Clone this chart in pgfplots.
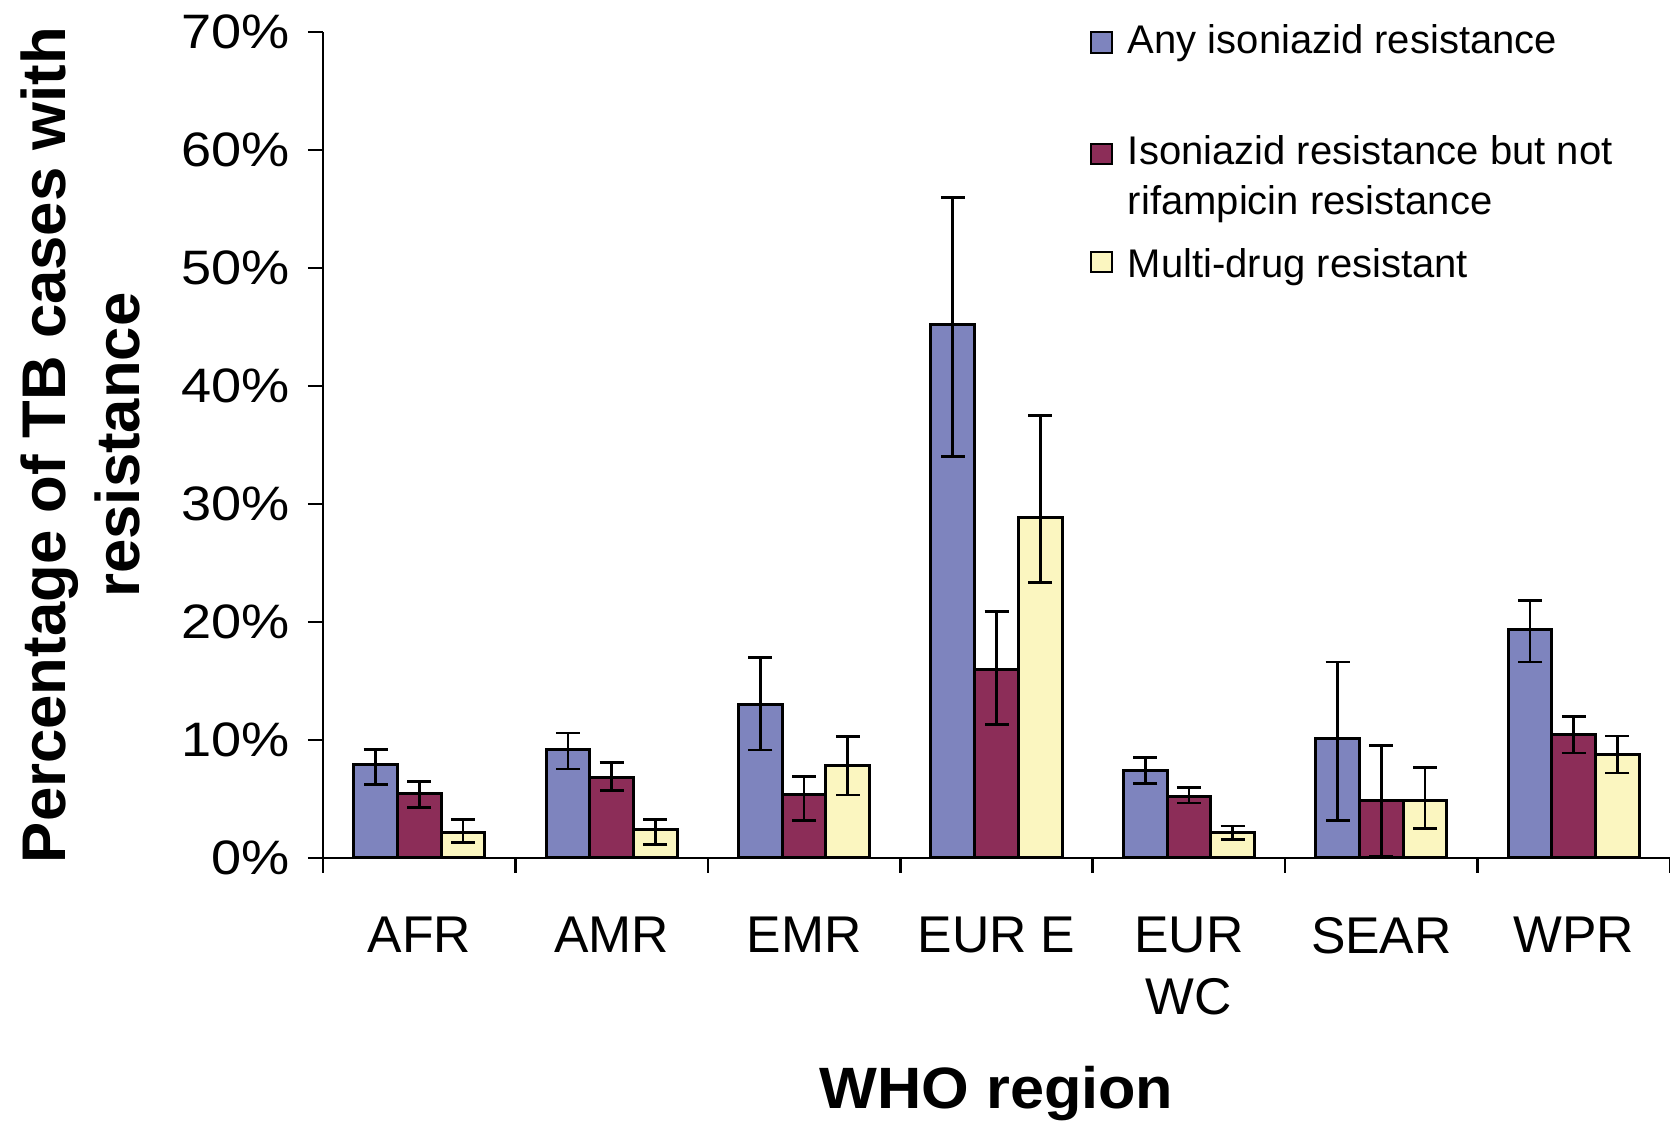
\documentclass[border=0pt]{standalone}
\usepackage{graphicx}
\usepackage{pgfplots}
\pgfplotsset{compat=1.18}
\usepackage{pgfplotstable}
\usepackage{fontspec}
\setmainfont{Liberation Sans}
\definecolor{cblue}{RGB}{126,132,190}
\definecolor{cred}{RGB}{140,45,88}
\definecolor{cyel}{RGB}{251,246,192}

% columns: x, value, error plus, error minus (percent)
\pgfplotstableread{
x y ep em
0 7.9 1.3 1.65
1 9.2 1.4 1.65
2 13.0 4.0 3.85
3 45.2 10.8 11.2
4 7.4 1.1 1.1
5 10.1 6.5 6.9
6 19.4 2.4 2.8
}\anyres
\pgfplotstableread{
x y ep em
0 5.45 1.05 1.15
1 6.8 1.3 1.1
2 5.35 1.55 2.15
3 16.0 4.9 4.7
4 5.25 0.75 0.6
5 4.9 4.65 4.8
6 10.45 1.55 1.55
}\nonrif
\pgfplotstableread{
x y ep em
0 2.2 1.05 0.9
1 2.4 0.85 1.25
2 7.85 2.45 2.5
3 28.85 8.65 5.5
4 2.15 0.55 0.6
5 4.9 2.75 2.4
6 8.75 1.6 1.55
}\mdr

\begin{document}
\begin{tikzpicture}
\useasboundingbox (0,0) rectangle (501pt,337.2pt);
\begin{axis}[
  at={(96.9pt,79.8pt)}, anchor=south west,
  scale only axis, width=404.1pt, height=247.8pt,
  xmin=-0.5, xmax=6.5, ymin=0, ymax=70,
  axis lines*=left,
  axis line style={line width=0.8pt, black},
  every tick/.style={line width=0.8pt, black},
  tick align=outside,
  major tick length=4.5pt,
  xtick={-0.5,0.5,...,6.5},
  x tick label as interval,
  xticklabels={AFR,AMR,EMR,EUR E,EUR\\WC,SEAR,WPR},
  xticklabel style={font=\fontsize{15.5}{18.5}\selectfont, align=center, yshift=-9.8pt},
  ytick={0,10,...,70},
  yticklabel={\scalebox{1.12}[1]{\pgfmathprintnumber{\tick}\%}},
  yticklabel style={font=\fontsize{14.5}{17}\selectfont, xshift=-2pt},
  /pgf/number format/assume math mode=true,
  xlabel={\scalebox{1.05}[1]{WHO region}},
  xlabel style={font=\bfseries\fontsize{17.5}{21}\selectfont, at={(axis description cs:0.5,-0.303)}, anchor=base},
  ylabel={Percentage of TB cases with\\resistance},
  ylabel style={font=\bfseries\fontsize{18.5}{22}\selectfont, align=center, at={(axis description cs:-0.180,0.5)}, anchor=center},
  ybar=0pt, bar width=0.227,
  legend style={at={(axis description cs:0.569,1.018)}, anchor=north west, draw=none, fill=none, inner sep=0pt,
    font=\fontsize{12}{15}\selectfont, cells={anchor=base west, align=left}, row sep=4.6pt},
  legend cell align=left,
]
\pgfplotsset{mybox/.style={legend image code/.code={\draw[##1, draw=black, line width=0.6pt] (0pt,#1) rectangle ++(6.2pt,6.2pt); \path (8.6pt,0pt);}}}
\addplot[fill=cblue, draw=black, line width=0.9pt, mybox=3.9pt,
  error bars/.cd, y dir=both, y explicit,
  error bar style={line width=0.8pt, black},
  error mark options={rotate=90, mark size=3.6pt, line width=0.8pt, black}]
  table[x=x, y=y, y error plus=ep, y error minus=em] {\anyres};
\addlegendentry{Any isoniazid resistance\\[-0.5pt]\mbox{}}
\addplot[fill=cred, draw=black, line width=0.9pt, mybox=3.9pt,
  error bars/.cd, y dir=both, y explicit,
  error bar style={line width=0.8pt, black},
  error mark options={rotate=90, mark size=3.6pt, line width=0.8pt, black}]
  table[x=x, y=y, y error plus=ep, y error minus=em] {\nonrif};
\addlegendentry{Isoniazid resistance but not\\rifampicin resistance}
\addplot[fill=cyel, draw=black, line width=0.9pt, mybox=-2.2pt,
  error bars/.cd, y dir=both, y explicit,
  error bar style={line width=0.8pt, black},
  error mark options={rotate=90, mark size=3.6pt, line width=0.8pt, black}]
  table[x=x, y=y, y error plus=ep, y error minus=em] {\mdr};
\addlegendentry{Multi-drug resistant}
\end{axis}
\end{tikzpicture}
\end{document}
